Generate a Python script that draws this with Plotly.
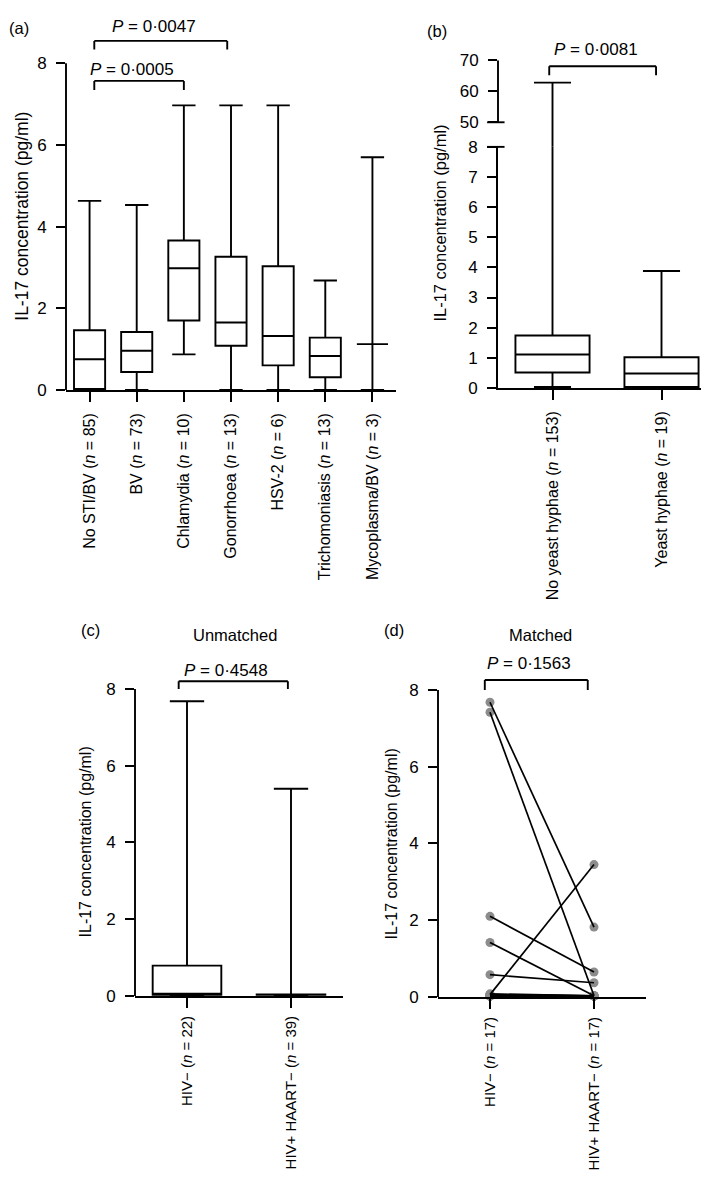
import plotly.graph_objects as go

W, H = 709, 1178
FONT = "Arial, Liberation Sans, Helvetica, sans-serif"


def fx(p):
    return p / W


def fy(p):
    return 1 - p / H


# ---------------- data ----------------
# (a) STI / BV groups
a_cats = ["No STI/BV", "BV", "Chlamydia", "Gonorrhoea", "HSV-2", "Trichomoniasis", "Mycoplasma/BV"]
a_n = [85, 73, 10, 13, 6, 13, 3]
a_low = [0.0, 0.0, 0.87, 0.0, 0.0, 0.0, 0.0]
a_q1 = [0.02, 0.44, 1.70, 1.08, 0.60, 0.31, 1.12]
a_med = [0.75, 0.96, 2.98, 1.65, 1.32, 0.83, 1.12]
a_q3 = [1.46, 1.42, 3.66, 3.26, 3.03, 1.28, 1.12]
a_high = [4.63, 4.53, 6.97, 6.97, 6.97, 2.68, 5.70]

# (b) yeast hyphae
b_cats = ["No yeast hyphae", "Yeast hyphae"]
b_n = [153, 19]
b_low = [0.03, 0.0]
b_q1 = [0.51, 0.03]
b_med = [1.11, 0.48]
b_q3 = [1.74, 1.02]
b_high = [62.8, 3.88]

# (c) unmatched HIV
c_cats = ["HIV−", "HIV+ HAART−"]
c_n = [22, 39]
c_low = [0.0, 0.0]
c_q1 = [0.03, 0.03]
c_med = [0.05, 0.03]
c_q3 = [0.79, 0.04]
c_high = [7.68, 5.40]

# (d) matched pairs
d_cats = ["HIV−", "HIV+ HAART−"]
d_n = [17, 17]
d_hiv_neg = [7.68, 7.42, 2.10, 1.42, 0.58, 0.06, 0.08, 0.06, 0.05, 0.04, 0.04, 0.03, 0.03, 0.02, 0.02, 0.02, 0.02]
d_hiv_pos = [1.82, 0.03, 0.65, 0.03, 0.37, 3.45, 0.03, 0.03, 0.03, 0.02, 0.02, 0.02, 0.02, 0.02, 0.02, 0.02, 0.02]

# p-values
p_a = ["0·0005", "0·0047"]
p_b = "0·0081"
p_c = "0·4548"
p_d = "0·1563"

ytitle = "IL-17 concentration (pg/ml)"


def ticktext(cats, ns):
    return [f"{c} (<i>n</i> = {n})" for c, n in zip(cats, ns)]


fig = go.Figure()

LW = 1.9
box_style = dict(fillcolor="white", line=dict(color="black", width=LW), boxpoints=False,
                 showlegend=False, orientation="v", hoverinfo="skip")

# (a)
fig.add_trace(go.Box(x=a_cats, q1=a_q1, median=a_med, q3=a_q3, lowerfence=a_low, upperfence=a_high,
                     width=0.66, whiskerwidth=0.75, xaxis="x", yaxis="y", **box_style))
# (b) lower and upper segments of the broken axis
for ya in ["y2", "y3"]:
    fig.add_trace(go.Box(x=b_cats, q1=b_q1, median=b_med, q3=b_q3, lowerfence=b_low, upperfence=b_high,
                         width=0.68, whiskerwidth=0.5, xaxis="x2", yaxis=ya, **box_style))
# (c)
fig.add_trace(go.Box(x=c_cats, q1=c_q1, median=c_med, q3=c_q3, lowerfence=c_low, upperfence=c_high,
                     width=0.66, whiskerwidth=0.5, xaxis="x4", yaxis="y4", **box_style))
# (d) points then connecting lines
fig.add_trace(go.Scatter(x=[d_cats[0]] * len(d_hiv_neg) + [d_cats[1]] * len(d_hiv_pos),
                         y=d_hiv_neg + d_hiv_pos, mode="markers",
                         marker=dict(color="#8c8c8c", size=9), cliponaxis=False,
                         showlegend=False, hoverinfo="skip", xaxis="x5", yaxis="y5"))
lx, ly = [], []
for a, b in zip(d_hiv_neg, d_hiv_pos):
    lx += [d_cats[0], d_cats[1], None]
    ly += [a, b, None]
fig.add_trace(go.Scatter(x=lx, y=ly, mode="lines", line=dict(color="black", width=1.7),
                         showlegend=False, hoverinfo="skip", xaxis="x5", yaxis="y5"))

tickfont = dict(family=FONT, size=17, color="black")
catfont = dict(family=FONT, size=16, color="black")
catfont_small = dict(family=FONT, size=15, color="black")

xcommon = dict(type="category", showline=True, linecolor="black", linewidth=LW, ticks="outside",
               ticklen=10, tickwidth=LW, tickcolor="black", tickangle=-90,
               showgrid=False, zeroline=False, fixedrange=True)
ycommon = dict(showline=False, ticks="outside", ticklen=9, tickwidth=LW, tickcolor="black",
               tickfont=tickfont, showgrid=False, zeroline=False, fixedrange=True, ticklabelstandoff=6)

layout = dict(
    width=W, height=H, margin=dict(l=0, r=0, t=0, b=0),
    paper_bgcolor="white", plot_bgcolor="rgba(0,0,0,0)", boxmode="overlay",
    font=dict(family=FONT, color="black"),
    # (a)
    xaxis=dict(domain=[fx(58), fx(388)], range=[-0.5, 6.5], anchor="y", tickvals=a_cats,
               ticktext=ticktext(a_cats, a_n), ticklabelstandoff=5, tickfont=catfont, **xcommon),
    yaxis=dict(domain=[fy(379), fy(16)], range=[0, 8.75], anchor="x", tickvals=[0, 2, 4, 6, 8], **ycommon),
    # (b)
    xaxis2=dict(domain=[fx(490), fx(708)], range=[-0.5, 1.5], anchor="y2", tickvals=b_cats,
                ticktext=ticktext(b_cats, b_n), ticklabelstandoff=5, tickfont=catfont, **xcommon),
    yaxis2=dict(domain=[fy(377), fy(132)], range=[0, 8], anchor="x2", tickvals=list(range(0, 9)),
                **{**ycommon, "showline": True, "linecolor": "black", "linewidth": LW}),
    yaxis3=dict(domain=[fy(132), fy(44)], range=[50 - 25 / 3.15, 70], anchor="x2",
                tickvals=[50, 60, 70], **ycommon),
    # (c)
    xaxis4=dict(domain=[fx(127), fx(335)], range=[-0.5, 1.5], anchor="y4", tickvals=c_cats,
                ticktext=ticktext(c_cats, c_n), ticklabelstandoff=2, tickfont=catfont_small, **xcommon),
    yaxis4=dict(domain=[fy(995), fy(995 - 8.35 * 39)], range=[0, 8.35], anchor="x4",
                tickvals=[0, 2, 4, 6, 8], **ycommon),
    # (d)
    xaxis5=dict(domain=[fx(430), fx(638)], range=[-0.5, 1.5], anchor="y5", tickvals=d_cats,
                ticktext=ticktext(d_cats, d_n), ticklabelstandoff=2, tickfont=catfont_small, **xcommon),
    yaxis5=dict(domain=[fy(996), fy(996 - 8.35 * 39)], range=[0, 8.35], anchor="x5",
                tickvals=[0, 2, 4, 6, 8], **ycommon),
)
fig.update_layout(**layout)

shapes = []
line_style = dict(color="black", width=LW)


def vline_axis(xr, yr, y0, y1):
    shapes.append(dict(type="line", xref=f"{xr} domain", yref=yr, x0=0, x1=0, y0=y0, y1=y1, line=line_style))


vline_axis("x", "y", 0, 8)
vline_axis("x2", "y3", 50, 70)
vline_axis("x4", "y4", 0, 8)
vline_axis("x5", "y5", 0, 8)

# axis break marks in (b)
for yv in [fy(107), fy(132)]:
    shapes.append(dict(type="line", xref="x2 domain", yref="paper", x0=-0.05, x1=0.03, y0=yv, y1=yv,
                       line=line_style))


def bracket(xr, yr, x0, x1, ytop, ybot):
    for seg in [(x0, x0, ybot, ytop), (x0, x1, ytop, ytop), (x1, x1, ytop, ybot)]:
        shapes.append(dict(type="line", xref=xr, yref=yr, x0=seg[0], x1=seg[1], y0=seg[2], y1=seg[3],
                           line=line_style))


annotations = []


def ptext(xr, x, ypx, p):
    annotations.append(dict(xref=xr, yref="paper", x=x, y=fy(ypx), text=f"<i>P</i> = {p}", showarrow=False,
                            xshift=-7, yanchor="middle", font=dict(family=FONT, size=17, color="black")))


bracket("x", "y", 0.1, 2.0, 7.57, 7.35)
ptext("x", 1.05, 53, p_a[0])
bracket("x", "y", 0.1, 2.92, 8.55, 8.34)
ptext("x", 1.51, 10, p_a[1])
bracket("x2", "y3", -0.03, 0.95, 68.1, 65.2)
ptext("x2", 0.46, 33, p_b)
bracket("x4", "y4", -0.08, 0.97, 8.2, 8.0)
ptext("x4", 0.445, 664, p_c)
bracket("x5", "y5", -0.05, 0.94, 8.26, 8.0)
ptext("x5", 0.445, 657, p_d)


def paper_text(x, y, text, size=16.5, angle=0):
    annotations.append(dict(xref="paper", yref="paper", x=fx(x), y=fy(y), text=text, showarrow=False,
                            textangle=angle, xanchor="center", yanchor="middle",
                            font=dict(family=FONT, size=size, color="black")))


paper_text(11, 11, "(a)")
paper_text(429, 14, "(b)")
paper_text(82, 623, "(c)")
paper_text(386, 623, "(d)")
paper_text(227, 628, "Unmatched")
paper_text(532, 628, "Matched")
paper_text(14, 203, ytitle, size=17.5, angle=-90)
paper_text(432, 210, ytitle, size=16.5, angle=-90)
paper_text(77, 839, ytitle, size=16, angle=-90)
paper_text(383, 841, ytitle, size=16, angle=-90)

fig.update_layout(shapes=shapes, annotations=annotations)
fig.write_html("out.html")
